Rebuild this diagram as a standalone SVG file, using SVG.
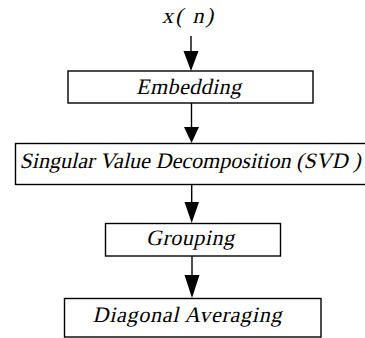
<svg xmlns="http://www.w3.org/2000/svg" width="365" height="338" viewBox="0 0 365 338">
<style>
.box{fill:#fff;stroke:#000;stroke-width:1.4}
.lbl{font-family:"Liberation Serif","Times New Roman",serif;font-size:22px;fill:#000}
.wire{stroke:#000;stroke-width:1.4;fill:none}
.head{fill:#000}
</style>
<rect width="365" height="338" fill="#fff"/>
<g id="connectors">
<line class="wire" x1="191" y1="36" x2="191" y2="55"/>
<polygon class="head" points="183.5,51 198.5,51 191,71"/>
<line class="wire" x1="191.5" y1="103" x2="191.5" y2="130"/>
<polygon class="head" points="184,127 199,127 191.5,143"/>
<line class="wire" x1="191.7" y1="184" x2="191.7" y2="205"/>
<polygon class="head" points="184.5,202 199,202 191.7,223"/>
<line class="wire" x1="192" y1="256" x2="192" y2="278"/>
<polygon class="head" points="184.5,275 199.5,275 192,298"/>
</g>
<g id="input">
<text class="lbl" transform="translate(162,23) skewX(-13)" x="0" y="0" font-size="20" textLength="51" lengthAdjust="spacing">x( n)</text>
</g>
<g id="embedding">
<rect class="box" x="68" y="71" width="245" height="32"/>
<text class="lbl" transform="translate(136,94) skewX(-13)" x="0" y="0" textLength="105" lengthAdjust="spacing">Embedding</text>
</g>
<g id="svd">
<rect class="box" x="15.5" y="143.5" width="360" height="41"/>
<text class="lbl" transform="translate(19.5,168) skewX(-13)" x="0" y="0" textLength="341" lengthAdjust="spacing">Singular Value Decomposition (SVD )</text>
</g>
<g id="grouping">
<rect class="box" x="105.5" y="223.5" width="175" height="32.5"/>
<text class="lbl" transform="translate(146,245) skewX(-13)" x="0" y="0" textLength="88" lengthAdjust="spacing">Grouping</text>
</g>
<g id="diagonal">
<rect class="box" x="64.5" y="298.5" width="256.5" height="38.5"/>
<text class="lbl" transform="translate(92.5,322) skewX(-13)" x="0" y="0" textLength="189" lengthAdjust="spacing">Diagonal Averaging</text>
</g>
</svg>
